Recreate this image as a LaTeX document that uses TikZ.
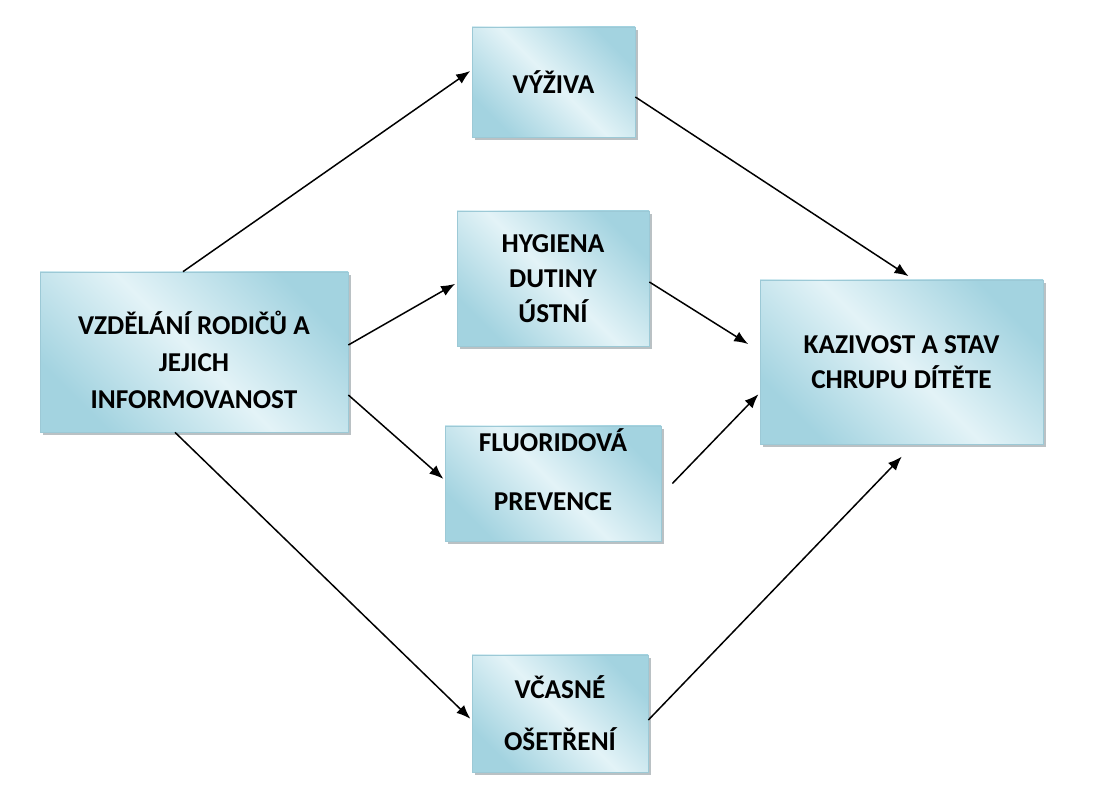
\documentclass[tikz,border=0pt]{standalone}
\usepackage{fontspec}
\setmainfont{Carlito}
\usetikzlibrary{arrows.meta,positioning,shadows,calc}
\definecolor{CareDeep}{HTML}{A3D3E0}
\definecolor{CareMist}{HTML}{E3F3F7}
\definecolor{CareEdge}{HTML}{9CC9D6}
\definecolor{CareShade}{HTML}{8C979C}
\tikzset{
  figlabel/.style={font=\bfseries\fontsize{15.5}{20}\selectfont, text=black},
  carebox/.style={figlabel, draw=CareEdge, line width=0.4pt, left color=CareDeep, right color=CareDeep, middle color=CareMist, shading angle=135, align=center, inner sep=0pt,
    drop shadow={shadow xshift=0.05cm, shadow yshift=-0.07cm, opacity=0.6, fill=CareShade}},
  carearrow/.style={-{Latex[length=2.8mm,width=2.2mm]}, line width=0.85pt, draw=black, shorten >=1pt}
}

\begin{document}
\begin{tikzpicture}
\useasboundingbox (0,0) rectangle (21.86,15.74);
% boxes
\node[carebox, minimum width=6.16cm, minimum height=3.2cm, text height=2.28cm] (parents) at (3.88,8.70) {VZDĚLÁNÍ RODIČŮ A\\[0.04cm]JEJICH\\[0.04cm]INFORMOVANOST};
\node[carebox, minimum width=3.26cm, minimum height=2.2cm] (diet) at (11.07,14.10) {VÝŽIVA};
\node[carebox, minimum width=3.84cm, minimum height=2.7cm] (hygiene) at (11.06,10.17) {HYGIENA\\DUTINY\\ÚSTNÍ};
\node[carebox, minimum width=4.32cm, minimum height=2.3cm, text depth=0.55cm] (fluoride) at (11.06,6.07) {FLUORIDOVÁ\\[0.48cm]PREVENCE};
\node[carebox, minimum width=3.52cm, minimum height=2.34cm] (care) at (11.20,1.47) {VČASNÉ\\[0.34cm]OŠETŘENÍ};
\node[carebox, minimum width=5.66cm, minimum height=3.28cm] (caries) at (18.03,8.50) {KAZIVOST A STAV\\CHRUPU DÍTĚTE};
% arrows
\draw[carearrow] ([xshift=-0.22cm]parents.north) -- ([yshift=0.24cm]diet.west);
\draw[carearrow] ([yshift=0.14cm]parents.east) -- ([yshift=-0.09cm]hygiene.west);
\draw[carearrow] ([yshift=-0.86cm]parents.east) -- ([yshift=0.07cm]fluoride.west);
\draw[carearrow] ([xshift=-0.38cm]parents.south) -- ([yshift=-0.13cm]care.west);
\draw[carearrow] ([yshift=-0.30cm]diet.east) -- ([xshift=0.17cm,yshift=0.05cm]caries.north);
\draw[carearrow] ([yshift=-0.07cm]hygiene.east) -- ([xshift=-0.2cm,yshift=0.34cm]caries.west);
\draw[carearrow] ([xshift=0.22cm]fluoride.east) -- ([yshift=-0.62cm]caries.west);
\draw[carearrow] ([yshift=-0.13cm]care.east) -- ([xshift=0.03cm,yshift=-0.22cm]caries.south);
\end{tikzpicture}
\end{document}
